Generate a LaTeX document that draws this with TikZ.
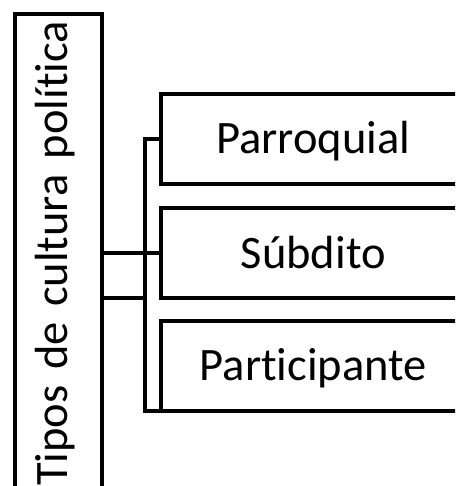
\documentclass[tikz,border=0pt]{standalone}
\usepackage{fontspec}
\setmainfont{Carlito}[Ligatures=NoCommon]
\tikzset{
  tipobox/.style={draw, line width=4pt, outer sep=0pt, minimum width=304pt, minimum height=90pt,
    inner sep=0pt, text height=30pt, text depth=0pt, font=\fontsize{46.5}{50}\selectfont},
  titulobox/.style={draw, line width=4pt, outer sep=0pt, rotate=90, minimum width=486.2pt,
    minimum height=86.4pt, inner xsep=7pt, inner ysep=0pt, text width=472.2pt, align=right,
    text height=30pt, text depth=12pt, font=\fontsize{46.5}{50}\selectfont},
  enlace/.style={draw, line width=4pt},
}
\begin{document}
\begin{tikzpicture}[x=1pt,y=1pt]
  \path[use as bounding box, clip] (0,0) rectangle (455,-486);
  \node[titulobox] (tipos) at (58.5,-256.9) {Tipos de cultura política};
  \node[tipobox] (parr) at (313.3,-138.8) {Parroquial};
  \node[tipobox] (subd) at (313.3,-253) {Súbdito};
  \node[tipobox] (part) at (313.3,-365.5) {Participante};
  \coordinate (bus) at (144.5,0);
  % enlaces
  \draw[enlace] (tipos.south |- subd.west) -- (subd.west);
  \draw[enlace] (tipos.south |- subd.south) -- (bus |- subd.south);
  \draw[enlace] (parr.west) -- (bus |- parr.west) -- (bus |- part.south west) -- (part.south west);
\end{tikzpicture}
\end{document}
